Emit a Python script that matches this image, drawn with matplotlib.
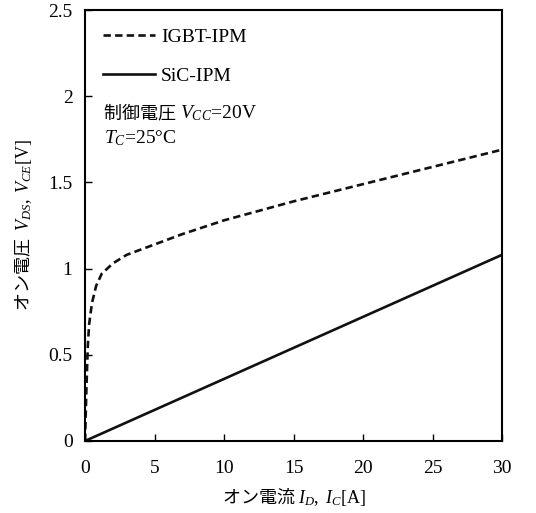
import matplotlib
matplotlib.use("Agg")
import matplotlib.pyplot as plt

# IGBT-IPM (dashed) and SiC-IPM (solid) on-voltage vs. on-current
igbt_i = [0, 0.1, 0.2, 0.3, 0.5, 0.8, 1.2, 2, 3, 4, 5, 7, 10, 15, 20, 25, 30]
igbt_v = [0, 0.3, 0.55, 0.68, 0.8, 0.9, 0.97, 1.03, 1.08, 1.11, 1.14, 1.20, 1.28, 1.39, 1.49, 1.59, 1.69]
sic_i = [0, 30]
sic_v = [0, 1.08]

x_ticks = [0, 5, 10, 15, 20, 25, 30]
y_ticks = [0, 0.5, 1, 1.5, 2, 2.5]
y_tick_labels = ['0', '0.5', '1', '1.5', '2', '2.5']

plt.rcParams['font.family'] = ['Liberation Serif', 'Noto Sans CJK JP']
plt.rcParams['mathtext.fontset'] = 'custom'
plt.rcParams['mathtext.rm'] = 'Liberation Serif'
plt.rcParams['mathtext.it'] = 'Liberation Serif:italic'

JP = 'Noto Sans CJK JP'  # non-math parts of mixed labels

fig = plt.figure(figsize=(5.36, 5.13), dpi=100)
ax = fig.add_axes([0.1586, 0.1404, 0.778, 0.840])

ax.plot(igbt_i, igbt_v, color='#111111', lw=1.9, ls=(0, (2.8, 1.6)), label='IGBT-IPM')
ax.plot(sic_i, sic_v, color='#111111', lw=1.9, label='SiC-IPM')

ax.set_xlim(0, 30)
ax.set_ylim(0, 2.5)
ax.set_xticks(x_ticks)
ax.set_yticks(y_ticks)
ax.set_yticklabels(y_tick_labels)
ax.tick_params(direction='in', length=5, width=1, labelsize=14)
ax.tick_params(axis='x', pad=14)
ax.tick_params(axis='y', pad=9)
for s in ax.spines.values():
    s.set_linewidth(1.5)

ax.set_xlabel('オン電流 $I_D,\\ I_C\\mathrm{[A]}$', fontsize=13, family=JP, labelpad=6)
ax.set_ylabel('オン電圧  $V_{DS},\\ V_{CE}\\mathrm{[V]}$', fontsize=13, family=JP, labelpad=10)

ax.legend(loc='upper left', frameon=False, fontsize=14, handlelength=2.65,
          handletextpad=0.3, labelspacing=1.1, borderaxespad=0.55)

t1 = ax.text(0.045, 0.761, '制御電圧 ', transform=ax.transAxes,
             fontsize=13, family=JP, va='center')
ax.annotate('$V_{CC}$=20V', xy=(1, 0.5), xycoords=t1, fontsize=14,
            va='center', ha='left')
ax.text(0.045, 0.703, '$T_C$=25°C', transform=ax.transAxes,
        fontsize=14, va='center')

fig.savefig('out.png', dpi=100)
